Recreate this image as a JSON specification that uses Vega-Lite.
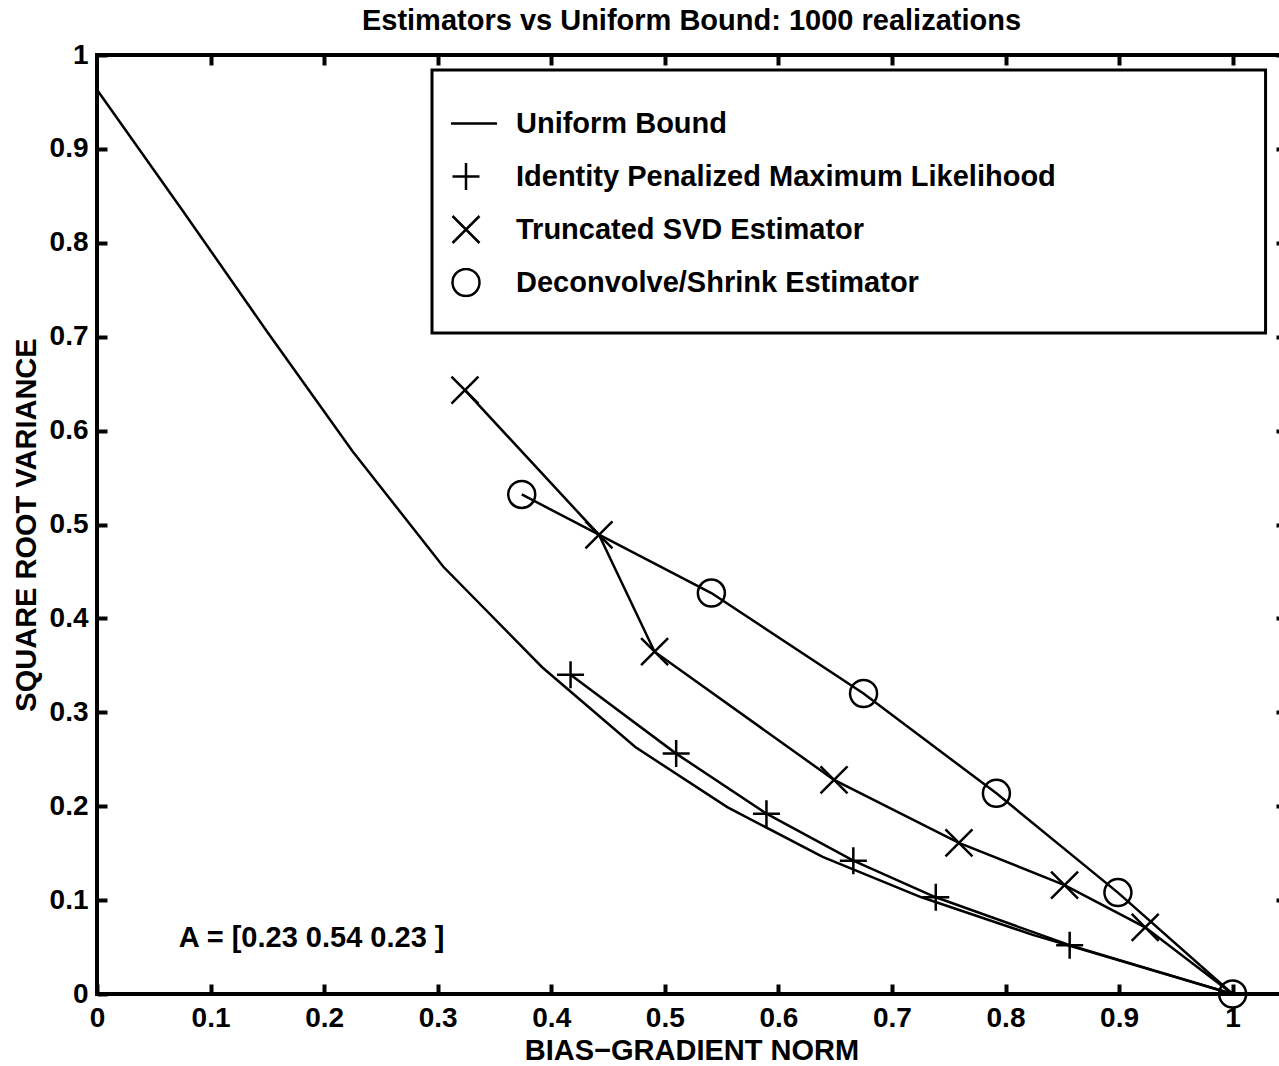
{
  "$schema": "https://vega.github.io/schema/vega-lite/v6.json",
  "autosize": {"type": "none"},
  "padding": {"left": 97, "top": 55, "right": 0, "bottom": 72},
  "width": 1189,
  "height": 939,
  "background": "white",
  "title": {"text": "Estimators vs Uniform Bound: 1000 realizations", "font": "Liberation Sans", "fontSize": 29, "fontWeight": "bold", "color": "black", "offset": 5, "anchor": "middle"},
  "config": {
    "view": {"stroke": "black", "strokeWidth": 4},
    "axis": {"grid": false, "domain": false, "tickColor": "black", "tickWidth": 4, "tickSize": -10, "labelFont": "Liberation Sans", "labelFontSize": 28, "labelFontWeight": "bold", "labelColor": "black", "titleFont": "Liberation Sans", "titleFontSize": 29, "titleFontWeight": "bold", "titleColor": "black", "labelFlush": false, "labelOverlap": false}
  },
  "data": {"values": [
    {"series": "Uniform Bound", "x": 0.0, "y": 0.963},
    {"series": "Uniform Bound", "x": 0.075, "y": 0.835},
    {"series": "Uniform Bound", "x": 0.15, "y": 0.705},
    {"series": "Uniform Bound", "x": 0.225, "y": 0.578},
    {"series": "Uniform Bound", "x": 0.305, "y": 0.455},
    {"series": "Uniform Bound", "x": 0.392, "y": 0.348},
    {"series": "Uniform Bound", "x": 0.474, "y": 0.263},
    {"series": "Uniform Bound", "x": 0.555, "y": 0.199},
    {"series": "Uniform Bound", "x": 0.639, "y": 0.146},
    {"series": "Uniform Bound", "x": 0.726, "y": 0.103},
    {"series": "Uniform Bound", "x": 0.824, "y": 0.063},
    {"series": "Uniform Bound", "x": 1.0, "y": 0.0},
    {"series": "Identity Penalized Maximum Likelihood", "x": 0.417, "y": 0.34},
    {"series": "Identity Penalized Maximum Likelihood", "x": 0.51, "y": 0.256},
    {"series": "Identity Penalized Maximum Likelihood", "x": 0.5895, "y": 0.192},
    {"series": "Identity Penalized Maximum Likelihood", "x": 0.666, "y": 0.142},
    {"series": "Identity Penalized Maximum Likelihood", "x": 0.7386, "y": 0.103},
    {"series": "Identity Penalized Maximum Likelihood", "x": 0.8565, "y": 0.052},
    {"series": "Identity Penalized Maximum Likelihood", "x": 1.0, "y": 0.0},
    {"series": "Truncated SVD Estimator", "x": 0.324, "y": 0.643},
    {"series": "Truncated SVD Estimator", "x": 0.442, "y": 0.489},
    {"series": "Truncated SVD Estimator", "x": 0.491, "y": 0.3645},
    {"series": "Truncated SVD Estimator", "x": 0.649, "y": 0.228},
    {"series": "Truncated SVD Estimator", "x": 0.759, "y": 0.161},
    {"series": "Truncated SVD Estimator", "x": 0.852, "y": 0.116},
    {"series": "Truncated SVD Estimator", "x": 0.923, "y": 0.071},
    {"series": "Truncated SVD Estimator", "x": 1.0, "y": 0.0},
    {"series": "Deconvolve/Shrink Estimator", "x": 0.374, "y": 0.532},
    {"series": "Deconvolve/Shrink Estimator", "x": 0.541, "y": 0.427},
    {"series": "Deconvolve/Shrink Estimator", "x": 0.675, "y": 0.32},
    {"series": "Deconvolve/Shrink Estimator", "x": 0.792, "y": 0.2137},
    {"series": "Deconvolve/Shrink Estimator", "x": 0.899, "y": 0.108},
    {"series": "Deconvolve/Shrink Estimator", "x": 1.0, "y": 0.0}
  ]},
  "layer": [
    {
      "data": {"values": [{}]},
      "mark": {"type": "rect", "fill": "white", "stroke": "black", "strokeWidth": 3},
      "encoding": {
        "x": {"datum": 0.295, "type": "quantitative", "scale": {"domain": [0, 1.047], "nice": false, "zero": false}, "axis": null},
        "x2": {"datum": 1.029},
        "y": {"datum": 0.984, "type": "quantitative", "scale": {"domain": [0, 1], "nice": false}, "axis": null},
        "y2": {"datum": 0.704}
      }
    },
    {
      "mark": {"type": "line", "color": "black", "strokeWidth": 2.5},
      "encoding": {
        "x": {"field": "x", "type": "quantitative", "scale": {"domain": [0, 1.047], "nice": false, "zero": false},
              "axis": {"orient": "bottom", "values": [0, 0.1, 0.2, 0.3, 0.4, 0.5, 0.6, 0.7, 0.8, 0.9, 1], "format": ".1~f", "labelPadding": 20, "title": "BIAS−GRADIENT NORM", "titlePadding": 4}},
        "y": {"field": "y", "type": "quantitative", "scale": {"domain": [0, 1], "nice": false},
              "axis": {"orient": "left", "values": [0, 0.1, 0.2, 0.3, 0.4, 0.5, 0.6, 0.7, 0.8, 0.9, 1], "format": ".1~f", "labelPadding": 19, "title": "SQUARE ROOT VARIANCE", "titlePadding": 8}},
        "detail": {"field": "series"}
      }
    },
    {
      "transform": [{"filter": "datum.series != 'Uniform Bound' && (datum.x < 1 || datum.series == 'Deconvolve/Shrink Estimator')"}],
      "mark": {"type": "point", "filled": false, "color": "black", "strokeWidth": 2.5, "size": 729, "opacity": 1},
      "encoding": {
        "x": {"field": "x", "type": "quantitative", "scale": {"domain": [0, 1.047], "nice": false, "zero": false},
              "axis": {"orient": "top", "values": [0.1, 0.2, 0.3, 0.4, 0.5, 0.6, 0.7, 0.8, 0.9, 1], "labels": false, "title": null}},
        "y": {"field": "y", "type": "quantitative", "scale": {"domain": [0, 1], "nice": false},
              "axis": {"orient": "right", "values": [0.1, 0.2, 0.3, 0.4, 0.5, 0.6, 0.7, 0.8, 0.9, 1], "labels": false, "title": null}},
        "shape": {"field": "series", "type": "nominal",
          "scale": {"domain": ["Uniform Bound", "Identity Penalized Maximum Likelihood", "Truncated SVD Estimator", "Deconvolve/Shrink Estimator"],
                    "range": ["M-2.3,0H2.3", "M-1,0H1M0,-1V1", "M-1,-1L1,1M-1,1L1,-1", "circle"]},
          "legend": {"orient": "none", "legendX": 354, "legendY": 54, "title": null, "padding": 0, "strokeColor": null, "fillColor": null,
                     "labelFont": "Liberation Sans", "labelFontSize": 29, "labelFontWeight": "bold", "labelColor": "black", "labelLimit": 1000, "labelOffset": 35,
                     "symbolSize": 729, "symbolStrokeWidth": 2.5, "symbolStrokeColor": "black", "symbolFillColor": "transparent", "clipHeight": 29, "rowPadding": 23}}
      }
    },
    {
      "data": {"values": [{}]},
      "mark": {"type": "text", "align": "left", "baseline": "middle", "font": "Liberation Sans", "fontSize": 29, "fontWeight": "bold", "color": "black"},
      "encoding": {
        "x": {"datum": 0.072, "type": "quantitative", "scale": {"domain": [0, 1.047], "nice": false, "zero": false}, "axis": null},
        "y": {"datum": 0.06, "type": "quantitative", "scale": {"domain": [0, 1], "nice": false}, "axis": null},
        "text": {"value": "A = [0.23 0.54 0.23 ]"}
      }
    }
  ],
  "resolve": {"axis": {"x": "independent", "y": "independent"}}
}
